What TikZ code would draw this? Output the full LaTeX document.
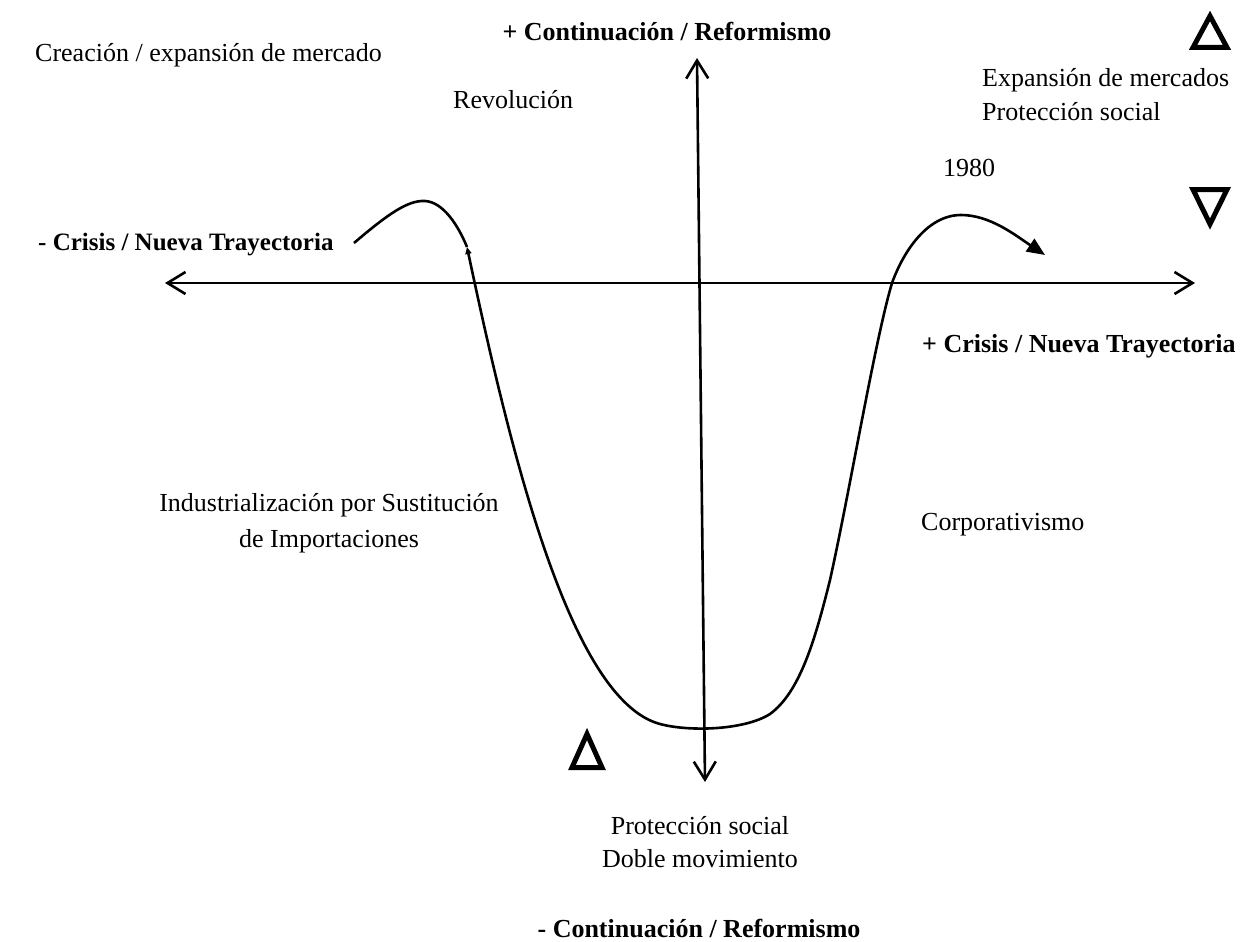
\documentclass[tikz,border=0pt]{standalone}
\usepackage{fontspec}
\setmainfont{Liberation Serif}
\usetikzlibrary{arrows.meta}
\begin{document}
\begin{tikzpicture}[x=1pt,y=-1pt,
  lbl/.style={inner sep=0pt, font=\fontsize{26}{34}\selectfont},
  blbl/.style={inner sep=0pt, font=\fontsize{26}{34}\selectfont\bfseries},
  axis/.style={line width=2.6pt, >={Straight Barb[length=18pt,width=22pt]}, <->},
  curve/.style={line width=2.6pt},
  tri/.style={line width=5pt, line join=miter, miter limit=10}]
\useasboundingbox (0,0) rectangle (1245,942);
% axes
\coordinate (hL) at (165,283);
\coordinate (hR) at (1195,283);
\coordinate (vT) at (697,58);
\coordinate (vB) at (705,782);
\draw[axis] (hL) -- (hR);
\draw[axis] (vT) -- (vB);
% curve
\coordinate (hs) at (354,243);
\coordinate (hp) at (425,201);
\coordinate (j) at (467,247);
\coordinate (end) at (1045,255);
\draw[curve] (hs) .. controls (388,214) and (408,200) .. (hp)
  .. controls (443,202) and (458,225) .. (j);
\draw[curve, {Triangle[length=7pt,width=6pt]}-{Triangle[length=18pt,width=15pt]}]
  (j) .. controls (510,450) and (570,700) .. (660,724)
  .. controls (690,732) and (745,730) .. (770,714)
  .. controls (800,692) and (815,640) .. (830,580)
  .. controls (850,490) and (875,340) .. (892,283)
  .. controls (904,250) and (928,215) .. (961,215)
  .. controls (990,215) and (1015,235) .. (end);
% triangles
\draw[tri] (1210,16) -- (1227,47.5) -- (1193,47.5) -- cycle;
\draw[tri] (1193,189.5) -- (1227,189.5) -- (1210,224) -- cycle;
\draw[tri] (587,734) -- (602,767.5) -- (572,767.5) -- cycle;
% labels
\node[blbl, anchor=base] (ctop) at (667,41) {+ Continuación / Reformismo};
\node[lbl, anchor=base west] (crea) at (35,62) {Creación / expansión de mercado};
\node[lbl, anchor=base west] (rev) at (453,108) {Revolución};
\node[lbl, anchor=base west] (expm) at (982,87) {Expansión de mercados};
\node[lbl, anchor=base west] (prot1) at (982,121) {Protección social};
\node[lbl, anchor=base west] (y1980) at (943,176) {1980};
\node[blbl, anchor=base west, font=\fontsize{25}{30}\selectfont\bfseries] (crisL) at (38,250) {- Crisis / Nueva Trayectoria};
\node[blbl, anchor=base west] (crisR) at (922,352) {+ Crisis / Nueva Trayectoria};
\node[lbl, anchor=base] (isi1) at (329,511) {Industrialización por Sustitución};
\node[lbl, anchor=base] (isi2) at (329,547) {de Importaciones};
\node[lbl, anchor=base west] (corp) at (921,530) {Corporativismo};
\node[lbl, anchor=base] (prot2) at (700,834) {Protección social};
\node[lbl, anchor=base] (doble) at (700,867) {Doble movimiento};
\node[blbl, anchor=base] (cbot) at (699,937) {- Continuación / Reformismo};
\end{tikzpicture}
\end{document}
